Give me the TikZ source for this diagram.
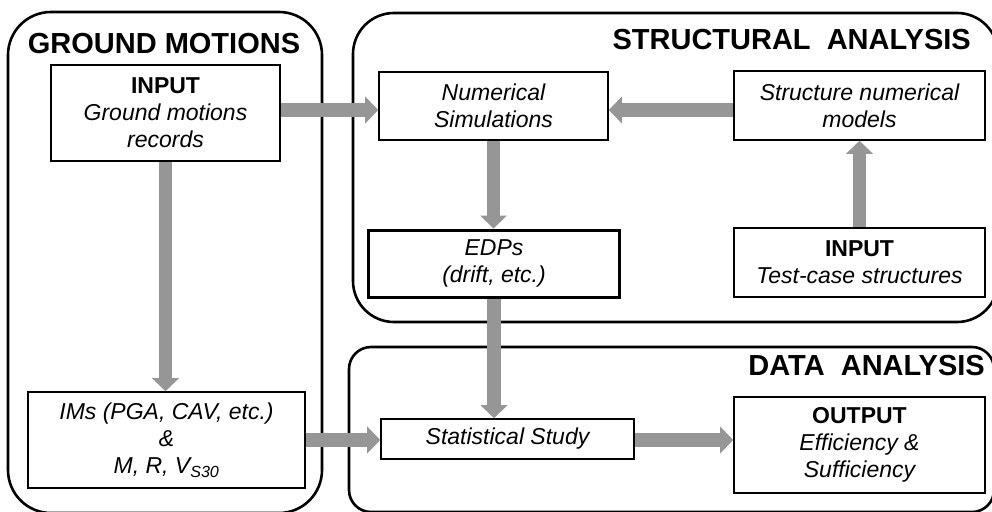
\documentclass[tikz,border=0pt]{standalone}
\usepackage{fontspec}
\setmainfont{Liberation Sans}
\usetikzlibrary{arrows.meta}
\definecolor{arrgray}{RGB}{150,150,150}
\begin{document}
\begin{tikzpicture}[x=1pt,y=-1pt,
  container/.style={draw, line width=2.6pt},
  box/.style={draw, line width=1.6pt, fill=white, rectangle, inner sep=0pt, align=center,
    font=\fontsize{23}{27}\selectfont\itshape},
  fat/.style={draw=arrgray, line width=13.5pt,
    -{Triangle[width=27pt,length=13pt,line width=0pt]}},
  title/.style={font=\fontsize{29}{32}\selectfont\bfseries, inner sep=0pt}]
\useasboundingbox (0,0) rectangle (992,511);
\clip (0,0) rectangle (992,511);
% containers
\draw[container, rounded corners=43pt] (8,12) rectangle (322,513);
\draw[container, rounded corners=41pt] (353,13) rectangle (998,322);
\draw[container, rounded corners=22pt] (349,347) rectangle (994,512);
% titles
\node[title, anchor=base] (tgm) at (164,53) {GROUND MOTIONS};
\node[title, anchor=base east] (tsa) at (971,50) {STRUCTURAL\ \ ANALYSIS};
\node[title, anchor=base east] (tda) at (985,375) {DATA\ \ ANALYSIS};
% boxes
\node[box, minimum width=229pt, minimum height=96pt] (ginput) at (165.5,113)
  {\textup{\textbf{INPUT}}\\Ground motions\\records};
\node[box, minimum width=277pt, minimum height=96pt] (ims) at (166.5,440)
  {IMs (PGA, CAV, etc.)\\\&\\M, R, V\textsubscript{S30}};
\node[box, minimum width=229pt, minimum height=68pt] (numsim) at (493.5,106)
  {Numerical\\Simulations};
\node[box, minimum width=251pt, minimum height=69pt] (strmod) at (859.5,105.5)
  {Structure numerical\\models};
\node[box, line width=3pt, minimum width=251pt, minimum height=67pt] (edps) at (494,263.5)
  {EDPs\\(drift, etc.)};
\node[box, minimum width=251pt, minimum height=69pt] (tcinput) at (859.5,262.5)
  {\textup{\textbf{INPUT}}\\Test-case structures};
\node[box, minimum width=253pt, minimum height=40pt] (stat) at (507.5,439)
  {Statistical Study};
\node[box, minimum width=251pt, minimum height=96pt] (output) at (859.5,445)
  {\textup{\textbf{OUTPUT}}\\Efficiency \&\\Sufficiency};
% arrows
\coordinate (ya) at (0,110);
\coordinate (yb) at (0,440);
\draw[fat] (ginput.east |- ya) -- (numsim.west |- ya);
\draw[fat] (strmod.west |- ya) -- (numsim.east |- ya);
\draw[fat] (numsim.south) -- (numsim.south |- edps.north);
\draw[fat] (tcinput.north) -- (strmod.south);
\draw[fat] (edps.south) -- (edps.south |- stat.north);
\draw[fat] (ginput.south) -- (ginput.south |- ims.north);
\draw[fat] (ims.east |- yb) -- (stat.west |- yb);
\draw[fat] (stat.east |- yb) -- (output.west |- yb);
\end{tikzpicture}
\end{document}
